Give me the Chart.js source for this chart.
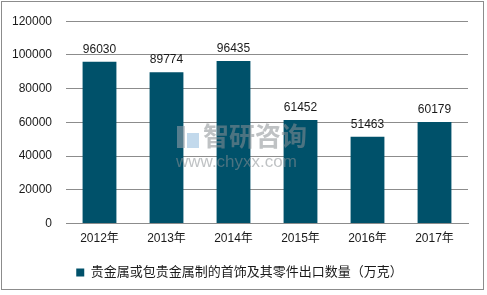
<!DOCTYPE html>
<html>
<head>
<meta charset="utf-8">
<script src="https://cdn.jsdelivr.net/npm/chart.js@4"></script>
<style>
html,body{margin:0;padding:0;background:#fff;}
canvas{display:block;}
</style>
</head>
<body>
<canvas id="c" width="487" height="295"></canvas>
<script>
const categories = ["2012年","2013年","2014年","2015年","2016年","2017年"];
const exportQty = [96030, 89774, 96435, 61452, 51463, 60179];
const seriesName = "贵金属或包贵金属制的首饰及其零件出口数量（万克）";
const yTicks = [0, 20000, 40000, 60000, 80000, 100000, 120000];

const FONT = "'Liberation Sans', Arial, 'Noto Sans CJK SC', sans-serif";
const BAR = "#00516a";

const framePlugin = {
  id: 'frame',
  beforeDraw(chart) {
    const ctx = chart.ctx;
    ctx.save();
    ctx.fillStyle = '#fff';
    ctx.fillRect(0, 0, chart.width, chart.height);
    ctx.strokeStyle = '#8c8c8c';
    ctx.lineWidth = 1;
    ctx.strokeRect(1.5, 1.5, 482, 288);
    ctx.restore();
  }
};

const labelPlugin = {
  id: 'barLabels',
  afterDatasetsDraw(chart) {
    const ctx = chart.ctx;
    const meta = chart.getDatasetMeta(0);
    ctx.save();
    ctx.font = "12px " + FONT;
    ctx.fillStyle = '#1a1a1a';
    ctx.textAlign = 'center';
    ctx.textBaseline = 'bottom';
    meta.data.forEach((el, i) => {
      ctx.fillText(String(chart.data.datasets[0].data[i]), el.x, el.y - 6);
    });
    ctx.restore();
  }
};

const watermarkPlugin = {
  id: 'watermark',
  afterDatasetsDraw(chart) {
    const ctx = chart.ctx;
    ctx.save();
    ctx.globalAlpha = 0.55;
    ctx.fillStyle = '#9aa3ab';
    ctx.fillRect(177, 126, 8, 22);
    ctx.fillStyle = '#8fb9dc';
    ctx.fillRect(187, 133, 12, 15);
    ctx.fillStyle = '#8a8f94';
    ctx.font = "bold 26px 'Noto Sans CJK SC', sans-serif";
    ctx.textBaseline = 'middle';
    ctx.textAlign = 'left';
    ctx.fillText("智研咨询", 203, 136);
    ctx.font = "17px " + FONT;
    ctx.fillText("www.chyxx.com", 176, 162);
    ctx.restore();
  }
};

new Chart(document.getElementById('c'), {
  type: 'bar',
  data: {
    labels: categories,
    datasets: [{
      label: seriesName,
      data: exportQty,
      backgroundColor: BAR,
      borderWidth: 0,
      barPercentage: 0.505,
      categoryPercentage: 1.0
    }]
  },
  options: {
    responsive: false,
    animation: false,
    devicePixelRatio: 1,
    layout: { padding: { left: 11, right: 19, top: 1, bottom: 6 } },
    plugins: {
      legend: {
        position: 'bottom',
        labels: {
          boxWidth: 8, boxHeight: 8,
          color: '#1a1a1a',
          font: { size: 13, family: FONT },
          padding: 12
        }
      },
      tooltip: { enabled: false }
    },
    scales: {
      x: {
        grid: { display: false, drawTicks: false },
        border: { display: true, color: '#8c8c8c' },
        ticks: { color: '#1a1a1a', font: { size: 12, family: FONT }, padding: 8 }
      },
      y: {
        min: 0, max: 120000,
        afterBuildTicks(axis) { axis.ticks = yTicks.map(v => ({ value: v })); },
        afterFit(axis) { axis.width = 55; },
        grid: { color: '#8c8c8c', drawTicks: false },
        border: { display: false },
        ticks: { color: '#1a1a1a', font: { size: 12, family: FONT }, padding: 14,
                 callback: (v) => String(v) }
      }
    }
  },
  plugins: [framePlugin, watermarkPlugin, labelPlugin]
});
</script>
</body>
</html>
